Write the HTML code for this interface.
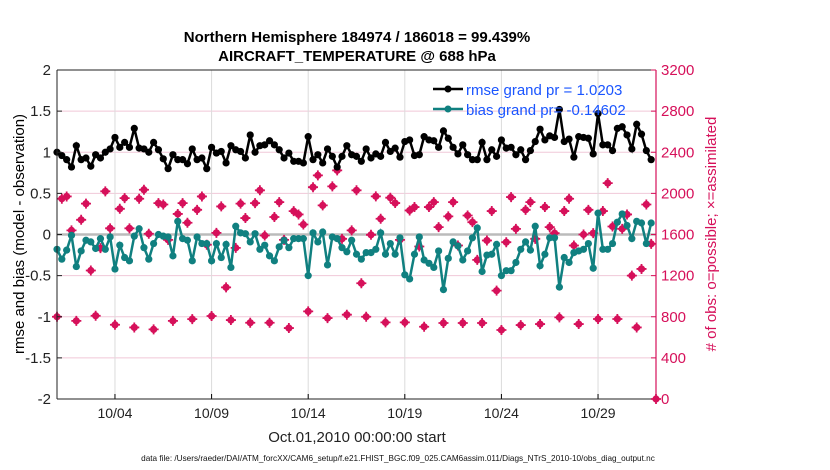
<!DOCTYPE html>
<html><head><meta charset="utf-8"><style>
body{margin:0;background:#fff;}
svg{display:block;font-family:"Liberation Sans",Arial,sans-serif;}
</style></head><body>
<svg id="chart" width="830" height="470" viewBox="0 0 830 470">
<g id="grid"></g>
<g id="marks"></g>
<g id="axes"></g>
<text x="357" y="42" text-anchor="middle" font-size="15" font-weight="bold">Northern Hemisphere 184974 / 186018 = 99.439%</text>
<text x="357" y="61" text-anchor="middle" font-size="15" font-weight="bold">AIRCRAFT_TEMPERATURE @ 688 hPa</text>
<text transform="translate(24,234) rotate(-90)" text-anchor="middle" font-size="15">rmse and bias (model - observation)</text>
<text transform="translate(716,234) rotate(-90)" text-anchor="middle" font-size="15" fill="#d6105a"># of obs: o=possible; ×=assimilated</text>
<text x="357" y="442" text-anchor="middle" font-size="15" fill="#222">Oct.01,2010 00:00:00 start</text>
<text x="398" y="461" text-anchor="middle" font-size="8.2" fill="#111">data file: /Users/raeder/DAI/ATM_forcXX/CAM6_setup/f.e21.FHIST_BGC.f09_025.CAM6assim.011/Diags_NTrS_2010-10/obs_diag_output.nc</text>
<g>
<line x1="433" y1="89" x2="463" y2="89" stroke="#000" stroke-width="2.5"/>
<circle cx="448" cy="89" r="3.5" fill="#000"/>
<text x="466" y="95" font-size="15" fill="#1a55ff">rmse grand pr = 1.0203</text>
<line x1="433" y1="109" x2="463" y2="109" stroke="#108080" stroke-width="2.5"/>
<circle cx="448" cy="109" r="3.5" fill="#108080"/>
<text x="466" y="115" font-size="15" fill="#1a55ff">bias grand pr= -0.14602</text>
</g>
</svg>
<script>
const rmse=[1.0,0.96,0.91,0.82,1.08,0.91,0.93,0.83,0.97,0.93,1.0,1.04,1.18,1.06,1.12,1.06,1.29,1.05,1.04,1.0,1.12,1.03,0.92,0.8,0.97,0.91,0.91,0.86,1.04,0.91,0.93,0.8,1.06,0.99,1.01,0.87,1.08,1.03,1.01,0.93,1.21,1.0,1.08,1.09,1.14,1.09,1.03,0.93,0.99,0.89,0.89,0.87,1.19,0.91,0.97,0.87,1.04,0.95,0.82,0.95,1.08,0.97,0.95,
0.89,1.04,0.93,0.98,0.95,1.12,1.01,1.05,0.94,1.13,1.15,0.96,0.97,1.19,1.15,1.14,1.06,1.26,1.17,1.06,0.98,1.09,0.97,0.91,0.91,1.12,0.91,1.03,0.95,1.15,1.05,1.06,0.97,1.03,0.91,1.02,1.13,1.28,1.15,1.2,1.18,1.52,1.13,1.16,0.94,1.19,1.18,1.17,0.98,1.47,1.09,1.09,1.02,1.29,1.31,1.21,1.04,1.34,1.22,1.02,0.91];
const bias=[-0.18,-0.30,-0.19,-0.01,-0.39,-0.20,-0.07,-0.09,-0.17,-0.05,-0.18,-0.03,-0.42,-0.13,-0.28,-0.32,-0.02,0.07,-0.16,-0.30,-0.11,0.0,-0.02,-0.03,-0.26,0.16,-0.05,-0.07,-0.32,-0.03,-0.11,-0.11,-0.32,-0.11,-0.28,-0.12,-0.40,0.10,0.02,0.01,-0.09,0.01,-0.18,-0.13,-0.26,-0.32,-0.15,-0.07,-0.16,-0.05,-0.05,-0.05,-0.50,0.02,-0.09,0.03,-0.37,-0.03,-0.05,-0.16,-0.21,-0.07,-0.24,
-0.30,-0.22,-0.22,-0.18,0.02,-0.24,-0.11,-0.24,-0.04,-0.49,-0.54,-0.24,-0.03,-0.31,-0.35,-0.40,-0.20,-0.67,-0.29,-0.09,-0.14,-0.31,-0.20,-0.04,0.08,-0.45,-0.25,-0.24,-0.12,-0.50,-0.44,-0.44,-0.34,-0.18,-0.09,-0.19,0.10,-0.38,-0.24,-0.04,-0.04,-0.64,-0.28,-0.34,-0.22,-0.20,-0.18,-0.11,-0.41,0.26,-0.18,-0.18,-0.11,0.15,0.25,0.11,-0.05,0.16,0.14,-0.11,0.14];
const nobs=[800,1948,1970,1640,760,1743,1900,1250,810,1467,2020,1660,722,1850,1954,1660,696,1948,2035,1607,677,1905,1892,1548,760,1800,1905,1714,777,1840,1970,1500,807,1616,1873,1086,768,1470,1900,1760,742,1905,2030,1590,742,1770,1915,1548,690,1827,1795,1697,852,2060,2175,1883,787,2068,2224,1558,820,1640,2030,
1126,800,1597,1971,1753,745,1958,1906,1548,745,1834,1867,1483,703,1867,1915,1672,739,1776,1915,1493,739,1785,1720,1353,739,1542,1828,1054,671,1525,1964,1655,719,1840,1915,1558,729,1867,1672,1613,794,1828,1948,1493,729,1600,1840,1613,778,1828,2100,1678,778,1655,1795,1200,696,1265,1892,1509];
const xTickDays=[3,8,13,18,23,28];
const xTickLabels=["10/04","10/09","10/14","10/19","10/24","10/29"];
const yTicks=[-2,-1.5,-1,-0.5,0,0.5,1,1.5,2];
const yTickLabels=["-2","-1.5","-1","-0.5","0","0.5","1","1.5","2"];
const rTicks=[0,400,800,1200,1600,2000,2400,2800,3200];

const L=57,R=656,T=70,B=399,NS="http://www.w3.org/2000/svg";
const xs=d=>L+(d/31)*(R-L);
const ys=v=>B-(v+2)/4*(B-T);
const yr=c=>B-c/3200*(B-T);
function mk(tag,attrs,parent){const e=document.createElementNS(NS,tag);for(const k in attrs)e.setAttribute(k,attrs[k]);parent.appendChild(e);return e;}
const grid=document.getElementById('grid'),marks=document.getElementById('marks'),axes=document.getElementById('axes');
yTicks.forEach(v=>{const l=mk('line',{x1:L,x2:R,y1:ys(v),y2:ys(v),stroke:'#f0c8d8','stroke-width':1},grid);

});
xTickDays.forEach((d,i)=>{const l=mk('line',{x1:xs(d),x2:xs(d),y1:T,y2:B,stroke:'#dcdcdc','stroke-width':1},grid);


const t=mk('text',{x:xs(d),y:418,'text-anchor':'middle','font-size':14,fill:'#222'},axes);t.textContent=xTickLabels[i];


mk('line',{x1:xs(d),x2:xs(d),y1:B,y2:B-5,stroke:'#000'},axes);});
const z=mk('line',{x1:L,x2:R,y1:ys(0),y2:ys(0),stroke:'#bbb','stroke-width':2.5},grid);


function star(x,y,g){mk('circle',{cx:x,cy:y,r:3.6,fill:'#d6105a'},g);mk('path',{d:`M${x-5} ${y}H${x+5}M${x} ${y-5}V${y+5}`,stroke:'#d6105a','stroke-width':1.8},g);}
nobs.forEach((c,i)=>{const g=mk('g',{},marks);


star(xs(i*0.25),yr(c),g);});
const gz=mk('g',{},marks);


star(xs(31),yr(0),gz);
function series(vals,color,name){const pts=vals.map((v,i)=>[xs(i*0.25),ys(v)]);
const p=mk('polyline',{points:pts.map(p=>p.join(',')).join(' '),fill:'none',stroke:color,'stroke-width':2.5},marks);


pts.forEach(q=>{const c=mk('circle',{cx:q[0],cy:q[1],r:3.6,fill:color},marks);

});}
series(bias,'#108080','bias');
series(rmse,'#000','rmse');
mk('line',{x1:L,x2:R,y1:T,y2:T,stroke:'#222'},axes);
mk('line',{x1:L,x2:R,y1:B,y2:B,stroke:'#222'},axes);
mk('line',{x1:L,x2:L,y1:T,y2:B,stroke:'#222'},axes);
mk('line',{x1:R,x2:R,y1:T,y2:B,stroke:'#d6105a','stroke-width':1.2},axes);
yTicks.forEach((v,i)=>{mk('line',{x1:L,x2:L+5,y1:ys(v),y2:ys(v),stroke:'#222'},axes);
const t=mk('text',{x:L-6,y:ys(v)+5,'text-anchor':'end','font-size':15,fill:'#222'},axes);t.textContent=yTickLabels[i];

});
rTicks.forEach(c=>{mk('line',{x1:R-5,x2:R,y1:yr(c),y2:yr(c),stroke:'#d6105a'},axes);
const t=mk('text',{x:R+5,y:yr(c)+5,'font-size':15,fill:'#d6105a'},axes);t.textContent=String(c);

});
</script>
</body></html>
